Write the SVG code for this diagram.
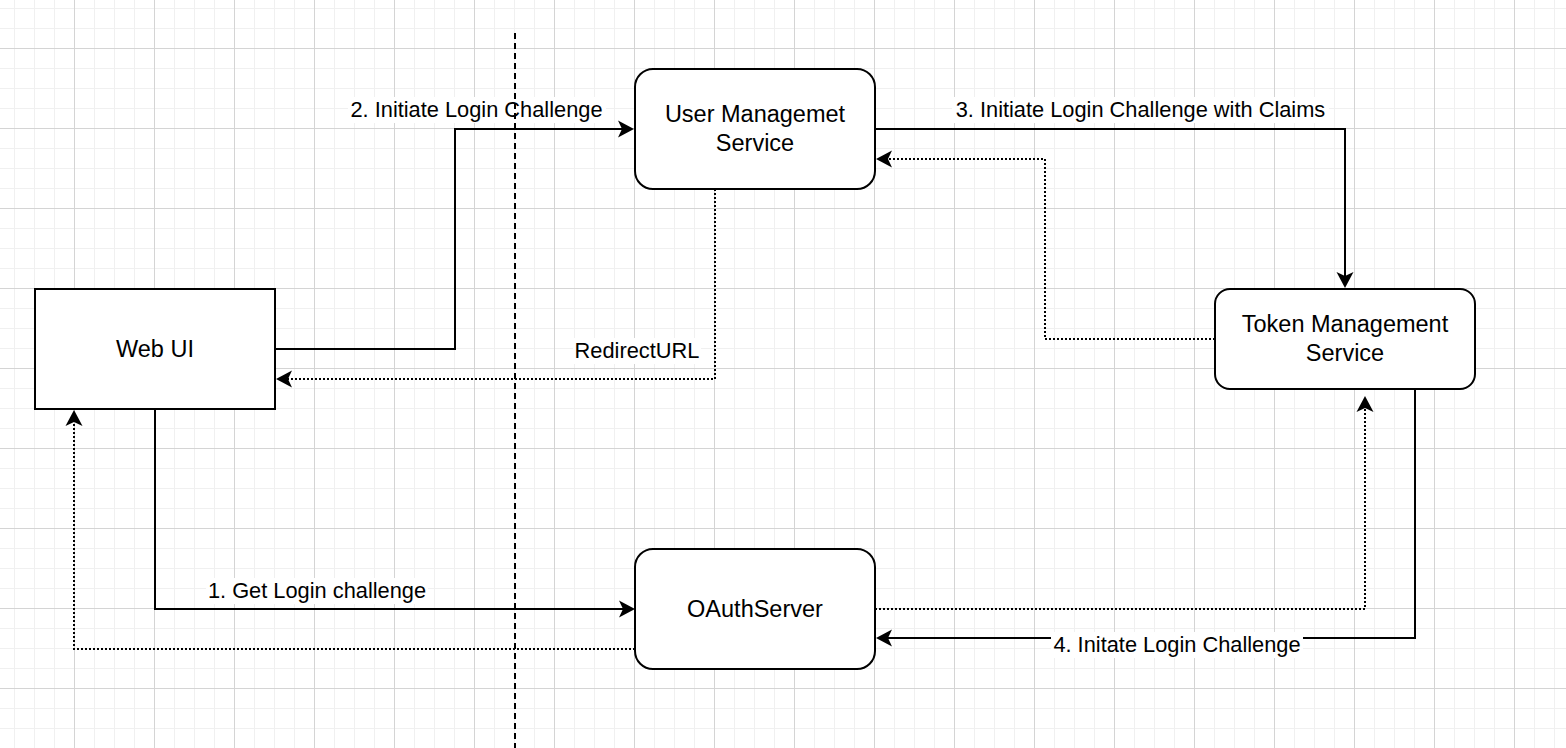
<svg xmlns="http://www.w3.org/2000/svg" width="1566" height="748" viewBox="0 0 1566 748">
  <defs>
    <pattern id="gridMinor" x="14" y="8" width="20" height="20" patternUnits="userSpaceOnUse">
      <path d="M0.5,0 V20 M0,0.5 H20" fill="none" stroke="#f0f0f0" stroke-width="1"/>
    </pattern>
    <pattern id="gridMajor" x="74" y="48" width="80" height="80" patternUnits="userSpaceOnUse">
      <path d="M0.5,0 V80 M0,0.5 H80" fill="none" stroke="#d4d4d4" stroke-width="1"/>
    </pattern>
    <marker id="arrow" viewBox="0 0 17 18" markerWidth="17" markerHeight="18" refX="5" refY="9" orient="auto" markerUnits="userSpaceOnUse">
      <path d="M16,9 L0,0.5 L4,9 L0,17.5 Z" fill="#000" stroke="none"/>
    </marker>
    <style>
      .node { fill: #ffffff; stroke: #000000; stroke-width: 2; }
      .ntext { font-family: "Liberation Sans", Arial, Helvetica, sans-serif; font-size: 23.5px; fill: #000; text-anchor: middle; }
      .edge { fill: none; stroke: #000000; stroke-width: 2; }
      .solid { marker-end: url(#arrow); }
      .dotted { stroke-dasharray: 2 2; marker-end: url(#arrow); }
      .ltext { font-family: "Liberation Sans", Arial, Helvetica, sans-serif; font-size: 21.8px; fill: #000; text-anchor: middle; }
      .lbg { fill: #ffffff; stroke: none; }
      .divider { fill: none; stroke: #000; stroke-width: 2; stroke-dasharray: 6 4; }
    </style>
  </defs>

  <rect x="0" y="0" width="1566" height="748" fill="#ffffff"/>
  <rect x="0" y="0" width="1566" height="748" fill="url(#gridMinor)"/>
  <rect x="0" y="0" width="1566" height="748" fill="url(#gridMajor)"/>

  <g id="connectors">
    <path id="e1" class="edge solid" d="M155,409 V609 H624"/>
    <path id="e2" class="edge solid" d="M275,349 H455 V129 H623"/>
    <path id="e3" class="edge dotted" d="M715,189 V379 H287"/>
    <path id="e4" class="edge solid" d="M875,129 H1345 V277"/>
    <path id="e5" class="edge dotted" d="M1215,339 H1045 V159 H887"/>
    <path id="e6" class="edge solid" d="M1415,389 V638 H887"/>
    <path id="e7" class="edge dotted" d="M875,609 H1365 V407"/>
    <path id="e8" class="edge dotted" d="M635,649 H74 V421"/>

    <g id="labels">
      <rect class="lbg" x="206" y="578" width="222" height="26"/>
      <text class="ltext" x="317" y="598">1. Get Login challenge</text>
      <rect class="lbg" x="348" y="97" width="258" height="26"/>
      <text class="ltext" x="476.5" y="117">2. Initiate Login Challenge</text>
      <rect class="lbg" x="573" y="338" width="128" height="26"/>
      <text class="ltext" x="637" y="358">RedirectURL</text>
      <rect class="lbg" x="952" y="97" width="377" height="26"/>
      <text class="ltext" x="1140.5" y="117">3. Initiate Login Challenge with Claims</text>
      <rect class="lbg" x="1051" y="632" width="252" height="26"/>
      <text class="ltext" x="1177" y="652">4. Initate Login Challenge</text>
    </g>
  </g>

  <g id="divider">
    <line class="divider" x1="515" y1="33" x2="515" y2="748"/>
  </g>

  <g id="web-ui">
    <rect class="node" x="35" y="289" width="240" height="120"/>
    <text class="ntext" x="155" y="357">Web UI</text>
  </g>

  <g id="user-management-service">
    <rect class="node" x="635" y="69" width="240" height="120" rx="18" ry="18"/>
    <text class="ntext" x="755" y="122">User Managemet</text>
    <text class="ntext" x="755" y="151">Service</text>
  </g>

  <g id="token-management-service">
    <rect class="node" x="1215" y="289" width="260" height="100" rx="15" ry="15"/>
    <text class="ntext" x="1345" y="332">Token Management</text>
    <text class="ntext" x="1345" y="361">Service</text>
  </g>

  <g id="oauth-server">
    <rect class="node" x="635" y="549" width="240" height="120" rx="18" ry="18"/>
    <text class="ntext" x="755" y="617">OAuthServer</text>
  </g>
</svg>
